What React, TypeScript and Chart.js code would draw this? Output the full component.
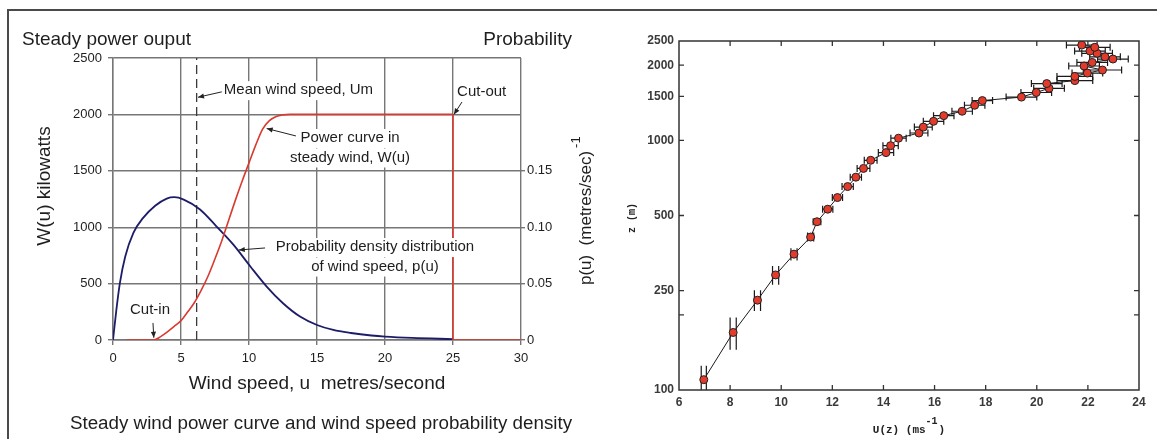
import React, { useEffect, useRef } from 'react';
import { Chart, registerables } from 'chart.js';

Chart.register(...registerables);

// ---------------- Left panel: power curve & wind-speed probability ----------------
const POWER_U = [1, 2, 3, 3.5, 4, 4.5, 5, 5.5, 6, 6.5, 7, 7.5, 8, 8.5, 9, 9.5, 10, 10.5, 11, 11.5, 12, 12.5, 13, 25];
const POWER_KW = [0, 0, 0, 30, 72, 120, 172, 250, 335, 445, 570, 720, 880, 1060, 1240, 1410, 1570, 1730, 1870, 1945, 1982, 1996, 2000, 2000];
const CUTOUT_U = [25, 25, 30];
const CUTOUT_KW = [2000, 0, 0];
const PROB_U = [0, 0.25, 0.5, 0.9, 1.5, 2.2, 3.1, 3.95, 4.5, 5.2, 6.4, 7.6, 8.85, 10.1, 11.3, 12.5, 13.75, 15, 16.2, 17.5, 19, 20, 22, 25];
const PROB_P = [0, 0.027, 0.05, 0.074, 0.095, 0.108, 0.119, 0.1254, 0.1266, 0.1245, 0.1157, 0.1008, 0.0845, 0.0652, 0.0474, 0.0326, 0.0208, 0.0133, 0.0089, 0.0062, 0.004, 0.003, 0.0018, 0.0008];
const MEAN_WIND_U = 6.15;
const MEAN_LINE_KW = [0, 2500];
const WIND_TICKS = [0, 5, 10, 15, 20, 25, 30];
const POWER_TICKS = [0, 500, 1000, 1500, 2000, 2500];
const PROB_TICKS = [0, 0.05, 0.1, 0.15];
const PROB_TICK_LABELS = ['0', '0.05', '0.10', '0.15'];

// ---------------- Right panel: wind profile U(z) ----------------
const PROFILE_U = [6.97, 8.12, 9.07, 9.78, 10.5, 11.15, 11.4, 11.82, 12.2, 12.6, 12.92, 13.22, 13.5, 14.1, 14.28, 14.59, 15.39, 15.56, 15.96, 16.36, 17.08, 17.57, 17.87, 19.4, 19.98, 20.48, 20.39, 21.49, 21.49, 21.98, 22.57, 21.85, 22.17, 22.98, 22.67, 22.36, 22.08, 22.27, 21.76];
const PROFILE_Z = [110, 170, 229, 289, 350, 410, 472, 530, 590, 653, 712, 772, 832, 893, 952, 1020, 1070, 1130, 1192, 1256, 1308, 1382, 1443, 1490, 1555, 1616, 1688, 1735, 1803, 1860, 1913, 1985, 2052, 2117, 2160, 2232, 2278, 2359, 2408];
const PROFILE_U_ERR = [0.1, 0.12, 0.12, 0.12, 0.12, 0.12, 0.15, 0.2, 0.2, 0.22, 0.22, 0.25, 0.25, 0.3, 0.3, 0.3, 0.35, 0.35, 0.4, 0.4, 0.4, 0.4, 0.4, 0.6, 0.6, 0.6, 0.6, 0.7, 0.7, 0.6, 0.75, 0.6, 0.6, 0.6, 0.6, 0.6, 0.6, 0.6, 0.6];
const PROFILE_Z_ERR = [15, 25, 22, 25, 20, 17, 15, 15, 15, 15, 15, 15, 15, 15, 15, 15, 15, 15, 15, 15, 15, 15, 15, 15, 15, 15, 15, 15, 15, 15, 15, 15, 15, 15, 15, 15, 15, 15, 15];
const U_TICKS = [6, 8, 10, 12, 14, 16, 18, 20, 22, 24];
const Z_TICKS = [100, 200, 250, 500, 1000, 1500, 2000, 2500];
const Z_TICK_LABELS = ['100', '', '250', '500', '1000', '1500', '2000', '2500'];

// ---------------- Styles ----------------
const RED = '#d93a2f';
const NAVY = '#1c1c68';
const GRID = '#767676';
const TEXT = '#1e1e1e';
const SANS = '"Liberation Sans", Arial, Helvetica, sans-serif';
const MONO = '"Liberation Mono", "DejaVu Sans Mono", monospace';

type Note = { lines: string[]; at: [number, number]; align: 'left' | 'center'; arrow: [[number, number], [number, number]] };
const LEFT_NOTES: Note[] = [
  { lines: ['Mean wind speed, Um'], at: [8.15, 2215], align: 'left', arrow: [[8.0, 2200], [6.25, 2152]] },
  { lines: ['Cut-out'], at: [25.3, 2200], align: 'left', arrow: [[25.66, 2110], [25.07, 2000]] },
  { lines: ['Power curve in', 'steady wind, W(u)'], at: [17.43, 1791], align: 'center', arrow: [[13.45, 1809], [11.3, 1875]] },
  { lines: ['Probability density distribution', 'of wind speed, p(u)'], at: [19.26, 824], align: 'center', arrow: [[11.18, 816], [9.25, 798]] },
  { lines: ['Cut-in'], at: [2.72, 266], align: 'center', arrow: [[2.94, 151], [3.0, 20]] },
];

function drawArrow(ctx: CanvasRenderingContext2D, x1: number, y1: number, x2: number, y2: number) {
  ctx.beginPath();
  ctx.moveTo(x1, y1);
  ctx.lineTo(x2, y2);
  ctx.stroke();
  const a = Math.atan2(y2 - y1, x2 - x1);
  const L = 6, W = 2.6;
  ctx.beginPath();
  ctx.moveTo(x2, y2);
  ctx.lineTo(x2 - L * Math.cos(a) + W * Math.sin(a), y2 - L * Math.sin(a) - W * Math.cos(a));
  ctx.lineTo(x2 - L * Math.cos(a) - W * Math.sin(a), y2 - L * Math.sin(a) + W * Math.cos(a));
  ctx.closePath();
  ctx.fill();
}

const leftDecor = {
  id: 'leftDecor',
  afterDatasetsDraw(chart: any) {
    const { ctx, scales } = chart;
    const xs = scales.x, ys = scales.y;
    ctx.save();
    ctx.font = `15px ${SANS}`;
    ctx.textBaseline = 'middle';
    const lh = 19.5;
    for (const n of LEFT_NOTES) {
      const cx = xs.getPixelForValue(n.at[0]);
      const cy = ys.getPixelForValue(n.at[1]);
      n.lines.forEach((t, i) => {
        const w = ctx.measureText(t).width;
        const l = n.align === 'left' ? cx : cx - w / 2;
        ctx.fillStyle = '#ffffff';
        ctx.fillRect(l - 2, cy + i * lh - 9, w + 4, 19);
      });
    }
    for (const n of LEFT_NOTES) {
      const cx = xs.getPixelForValue(n.at[0]);
      const cy = ys.getPixelForValue(n.at[1]);
      ctx.fillStyle = TEXT;
      ctx.textAlign = n.align;
      n.lines.forEach((t, i) => ctx.fillText(t, cx, cy + i * lh));
      ctx.strokeStyle = '#222';
      ctx.fillStyle = '#222';
      ctx.lineWidth = 1;
      drawArrow(ctx, xs.getPixelForValue(n.arrow[0][0]), ys.getPixelForValue(n.arrow[0][1]),
        xs.getPixelForValue(n.arrow[1][0]), ys.getPixelForValue(n.arrow[1][1]));
    }
    ctx.restore();
  },
  afterDraw(chart: any) {
    const { ctx, chartArea } = chart;
    ctx.save();
    ctx.fillStyle = TEXT;
    ctx.textBaseline = 'middle';
    ctx.font = `19px ${SANS}`;
    ctx.textAlign = 'left';
    ctx.fillText('Steady power ouput', 22, 40);
    ctx.textAlign = 'right';
    ctx.fillText('Probability', 572, 40);
    ctx.textAlign = 'center';
    ctx.fillText('Wind speed, u  metres/second', (chartArea.left + chartArea.right) / 2, 384);
    ctx.font = `18.8px ${SANS}`;
    ctx.fillText('Steady wind power curve and wind speed probability density', 321, 424);
    // left axis title
    ctx.font = `19px ${SANS}`;
    ctx.save();
    ctx.translate(45, 186);
    ctx.rotate(-Math.PI / 2);
    ctx.fillText('W(u) kilowatts', 0, 0);
    ctx.restore();
    // right axis title with superscript
    ctx.save();
    ctx.translate(586, 218);
    ctx.rotate(-Math.PI / 2);
    ctx.font = `17px ${SANS}`;
    const main = 'p(u)  (metres/sec)';
    const w = ctx.measureText(main).width;
    ctx.textAlign = 'left';
    ctx.fillText(main, -w / 2, 0);
    ctx.font = `13px ${SANS}`;
    ctx.fillText('-1', w / 2 + 3, -10);
    ctx.restore();
    ctx.restore();
  },
};

const rightDecor = {
  id: 'rightDecor',
  beforeDatasetsDraw(chart: any) {
    const { ctx, scales, chartArea } = chart;
    const xs = scales.x, ys = scales.y;
    ctx.save();
    ctx.beginPath();
    ctx.rect(chartArea.left, chartArea.top, chartArea.right - chartArea.left, chartArea.bottom - chartArea.top);
    ctx.clip();
    ctx.strokeStyle = '#1a1a1a';
    ctx.lineWidth = 1.2;
    PROFILE_U.forEach((u, i) => {
      const z = PROFILE_Z[i];
      const ex = PROFILE_U_ERR[i], ez = PROFILE_Z_ERR[i];
      const py = ys.getPixelForValue(z);
      const xl = xs.getPixelForValue(u - ex), xr = xs.getPixelForValue(u + ex);
      const yt = Math.min(ys.getPixelForValue(z + ez), py - 3.5);
      const yb = Math.max(ys.getPixelForValue(Math.max(z - ez, 1)), py + 3.5);
      ctx.beginPath();
      ctx.moveTo(xl, py); ctx.lineTo(xr, py);
      ctx.moveTo(xl, yt); ctx.lineTo(xl, yb);
      ctx.moveTo(xr, yt); ctx.lineTo(xr, yb);
      ctx.stroke();
    });
    ctx.restore();
  },
  afterDraw(chart: any) {
    const { ctx, scales, chartArea } = chart;
    const xs = scales.x, ys = scales.y;
    const { left, right, top, bottom } = chartArea;
    ctx.save();
    ctx.strokeStyle = '#333';
    ctx.lineWidth = 1.5;
    ctx.strokeRect(left, top, right - left, bottom - top);
    ctx.lineWidth = 1.3;
    ctx.beginPath();
    U_TICKS.slice(1, -1).forEach((v) => {
      const x = xs.getPixelForValue(v);
      ctx.moveTo(x, top); ctx.lineTo(x, top + 5);
      ctx.moveTo(x, bottom); ctx.lineTo(x, bottom - 5);
    });
    Z_TICKS.slice(1, -1).forEach((v) => {
      const y = ys.getPixelForValue(v);
      ctx.moveTo(left, y); ctx.lineTo(left + 5, y);
      ctx.moveTo(right, y); ctx.lineTo(right - 5, y);
    });
    ctx.stroke();
    // axis titles
    ctx.fillStyle = '#222';
    ctx.textBaseline = 'middle';
    const a = 'U(z) (ms', b = ')';
    ctx.font = `bold 11px ${MONO}`;
    const wa = ctx.measureText(a).width;
    ctx.font = `bold 10px ${MONO}`;
    const ws = ctx.measureText('-1').width;
    ctx.font = `bold 11px ${MONO}`;
    const wb = ctx.measureText(b).width;
    const total = wa + ws + wb + 1;
    const x0 = (left + right) / 2 - total / 2;
    ctx.textAlign = 'left';
    ctx.fillText(a, x0, 430);
    ctx.font = `bold 10px ${MONO}`;
    ctx.fillText('-1', x0 + wa, 421);
    ctx.font = `bold 11px ${MONO}`;
    ctx.fillText(b, x0 + wa + ws + 1, 430);
    ctx.save();
    ctx.translate(32, 218);
    ctx.rotate(-Math.PI / 2);
    ctx.textAlign = 'center';
    ctx.font = `bold 10px ${MONO}`;
    ctx.fillText('z (m)', 0, 0);
    ctx.restore();
    ctx.restore();
  },
};

const tickFont = { family: SANS, size: 13 };
const plainLabel = (v: any) => String(v);

function leftConfig(): any {
  return {
    type: 'line',
    data: {
      datasets: [
        { label: 'Power curve', data: POWER_U.map((u, i) => ({ x: u, y: POWER_KW[i] })), borderColor: RED, borderWidth: 1.6, pointRadius: 0, cubicInterpolationMode: 'monotone', yAxisID: 'y' },
        { label: 'Cut-out', data: CUTOUT_U.map((u, i) => ({ x: u, y: CUTOUT_KW[i] })), borderColor: RED, borderWidth: 1.6, pointRadius: 0, tension: 0, yAxisID: 'y' },
        { label: 'p(u)', data: PROB_U.map((u, i) => ({ x: u, y: PROB_P[i] })), borderColor: NAVY, borderWidth: 1.8, pointRadius: 0, cubicInterpolationMode: 'monotone', yAxisID: 'y1' },
        { label: 'Um', data: MEAN_LINE_KW.map((w) => ({ x: MEAN_WIND_U, y: w })), borderColor: '#3a3a3a', borderWidth: 1.3, borderDash: [9, 5], pointRadius: 0, yAxisID: 'y' },
      ],
    },
    options: {
      responsive: false,
      animation: false,
      events: [],
      layout: { padding: { top: 58, left: 0, right: 0, bottom: 0 } },
      plugins: { legend: { display: false }, tooltip: { enabled: false } },
      scales: {
        x: {
          type: 'linear', min: 0, max: 30,
          afterBuildTicks: (s: any) => { s.ticks = WIND_TICKS.map((v) => ({ value: v })); },
          afterFit: (s: any) => { s.height = 99; },
          grid: { color: GRID, lineWidth: 1.4, tickLength: 5 },
          border: { color: GRID, width: 1.4 },
          ticks: { font: tickFont, color: TEXT, padding: 6, maxRotation: 0, autoSkip: false, callback: plainLabel },
        },
        y: {
          type: 'linear', position: 'left', min: 0, max: 2500,
          afterBuildTicks: (s: any) => { s.ticks = POWER_TICKS.map((v) => ({ value: v })); },
          afterFit: (s: any) => { s.width = 113; },
          grid: { color: GRID, lineWidth: 1.4, tickLength: 5 },
          border: { color: GRID, width: 1.4 },
          ticks: { font: tickFont, color: TEXT, padding: 6, autoSkip: false, callback: plainLabel },
        },
        y1: {
          type: 'linear', position: 'right', min: 0, max: 0.25,
          afterBuildTicks: (s: any) => { s.ticks = PROB_TICKS.map((v) => ({ value: v })); },
          afterFit: (s: any) => { s.width = 79; },
          grid: { drawOnChartArea: false, color: GRID, lineWidth: 1.4, tickLength: 4 },
          border: { display: false },
          ticks: { font: tickFont, color: TEXT, padding: 2, autoSkip: false, callback: (_v: any, i: number) => PROB_TICK_LABELS[i] },
        },
      },
    },
    plugins: [leftDecor],
  };
}

function rightConfig(): any {
  const f = { family: SANS, size: 12, weight: 'bold' };
  return {
    type: 'line',
    data: {
      datasets: [
        {
          label: 'U(z)',
          data: PROFILE_U.map((u, i) => ({ x: u, y: PROFILE_Z[i] })),
          borderColor: '#1a1a1a', borderWidth: 1, tension: 0,
          pointRadius: 4, pointBackgroundColor: '#e23b2b', pointBorderColor: '#222', pointBorderWidth: 1,
        },
      ],
    },
    options: {
      responsive: false,
      animation: false,
      events: [],
      layout: { padding: { top: 41, left: 0, right: 18, bottom: 0 } },
      plugins: { legend: { display: false }, tooltip: { enabled: false } },
      scales: {
        x: {
          type: 'linear', min: 6, max: 24,
          afterBuildTicks: (s: any) => { s.ticks = U_TICKS.map((v) => ({ value: v })); },
          afterFit: (s: any) => { s.height = 49; },
          grid: { display: false, drawTicks: false },
          border: { display: false },
          ticks: { font: f, color: '#3a3a3a', padding: 5, maxRotation: 0, autoSkip: false, callback: plainLabel },
        },
        y: {
          type: 'logarithmic', min: 100, max: 2500,
          afterBuildTicks: (s: any) => { s.ticks = Z_TICKS.map((v) => ({ value: v })); },
          afterFit: (s: any) => { s.width = 79; },
          grid: { display: false, drawTicks: false },
          border: { display: false },
          ticks: { font: f, color: '#3a3a3a', padding: 5, autoSkip: false, callback: (v: any) => { const k = Z_TICKS.indexOf(Number(v)); return k >= 0 ? Z_TICK_LABELS[k] : ''; } },
        },
      },
    },
    plugins: [rightDecor],
  };
}

export default function App() {
  const leftRef = useRef<HTMLCanvasElement>(null);
  const rightRef = useRef<HTMLCanvasElement>(null);
  useEffect(() => {
    const l = new Chart(leftRef.current as HTMLCanvasElement, leftConfig());
    const r = new Chart(rightRef.current as HTMLCanvasElement, rightConfig());
    return () => { l.destroy(); r.destroy(); };
  }, []);
  return (
    <div style={{ position: 'absolute', left: 0, top: 0, width: 1157, height: 439, background: '#fff', overflow: 'hidden' }}>
      <div style={{ position: 'absolute', left: 7, top: 9, width: 1170, height: 450, borderTop: '2px solid #4a4a4a', borderLeft: '2px solid #4a4a4a' }} />
      <canvas ref={leftRef} width={600} height={439} style={{ position: 'absolute', left: 0, top: 0 }} />
      <canvas ref={rightRef} width={557} height={439} style={{ position: 'absolute', left: 600, top: 0 }} />
    </div>
  );
}
